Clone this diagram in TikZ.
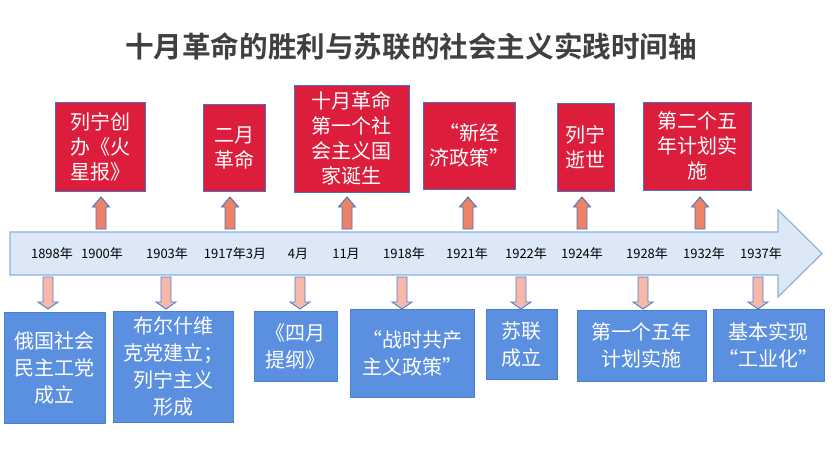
\documentclass[tikz,border=0pt]{standalone}
\usepackage{fontspec}
\setmainfont{Noto Sans CJK SC}
\newfontfamily\cjkb{Noto Sans CJK SC Bold}
\definecolor{redbox}{HTML}{DC1E3C}
\definecolor{bluebox}{HTML}{5B8FDF}
\definecolor{blueedge}{HTML}{4A7ED0}
\definecolor{redge}{HTML}{4472C4}
\definecolor{uparrfill}{HTML}{EE8266}
\definecolor{dnarrfill}{HTML}{F6B9A9}
\definecolor{axisfill}{HTML}{DDE8F7}
\definecolor{axisedge}{HTML}{8DB0E0}
\definecolor{titlecol}{HTML}{404040}
\tikzset{
  redbx/.style={draw=redge, line width=1pt, fill=redbox, text=white, inner sep=0pt, align=center, font=\fontsize{20}{25}\selectfont},
  bluebx/.style={draw=blueedge, line width=1pt, fill=bluebox, text=white, inner sep=0pt, align=center, font=\fontsize{20}{27}\selectfont},
  yearlbl/.style={inner sep=0pt, text=black, font=\fontsize{13}{15}\selectfont},
  uparr/.style={draw=redge, line width=0.9pt, fill=uparrfill, line join=miter},
  dnarr/.style={draw=blueedge, line width=0.9pt, fill=dnarrfill, line join=miter}
}
\newcommand{\UpArr}[1]{\draw[uparr] (#1-5,229) -- (#1-5,207) -- (#1-8.5,207) -- (#1,197) -- (#1+8.5,207) -- (#1+5,207) -- (#1+5,229) -- cycle;}
\newcommand{\DnArr}[1]{\draw[dnarr] (#1-5,277) -- (#1-5,302) -- (#1-10,302) -- (#1,309) -- (#1+10,302) -- (#1+5,302) -- (#1+5,277) -- cycle;}
\begin{document}
\begin{tikzpicture}[x=1pt,y=-1pt]
\useasboundingbox (0,0) rectangle (836,461);
\fill[white] (0,0) rectangle (836,461);
% title
\node[inner sep=0pt, text=titlecol, font=\cjkb\fontsize{28.6}{31}\selectfont] (title) at (411,47) {十月革命的胜利与苏联的社会主义实践时间轴};
% axis
\draw[axisedge, line width=1.2pt, fill=axisfill, line join=miter] (10,232) -- (778,232) -- (778,210) -- (822,253.5) -- (778,297) -- (778,275) -- (10,275) -- cycle;
% years
\node[yearlbl] (y1898) at (52,254) {1898年};
\node[yearlbl] (y1900) at (102,254) {1900年};
\node[yearlbl] (y1903) at (167,254) {1903年};
\node[yearlbl] (y1917) at (235,254) {1917年3月};
\node[yearlbl] (y4) at (298,254) {4月};
\node[yearlbl] (y11) at (346,254) {11月};
\node[yearlbl] (y1918) at (404,254) {1918年};
\node[yearlbl] (y1921) at (467,254) {1921年};
\node[yearlbl] (y1922) at (526,254) {1922年};
\node[yearlbl] (y1924) at (582,254) {1924年};
\node[yearlbl] (y1928) at (647,254) {1928年};
\node[yearlbl] (y1932) at (704,254) {1932年};
\node[yearlbl] (y1937) at (761,254) {1937年};
% up arrows
\UpArr{101}
\UpArr{230}
\UpArr{347}
\UpArr{468}
\UpArr{582}
\UpArr{700}
% down arrows
\DnArr{48}
\DnArr{166}
\DnArr{300}
\DnArr{402}
\DnArr{521}
\DnArr{643}
\DnArr{758}
% red boxes
\node[redbx, minimum width=90pt, minimum height=89pt] (r1) at (100.5,146.5) {列宁创\\办《火\\星报》};
\node[redbx, minimum width=62pt, minimum height=87pt] (r2) at (234,147.5) {二月\\革命};
\node[redbx, minimum width=115pt, minimum height=107pt] (r3) at (351.5,138.5) {十月革命\\第一个社\\会主义国\\家诞生};
\node[redbx, minimum width=92pt, minimum height=87pt] (r4) at (469,145.5) {“新经\\济政策”};
\node[redbx, minimum width=57pt, minimum height=88pt] (r5) at (585.5,147) {列宁\\逝世};
\node[redbx, minimum width=108pt, minimum height=88pt] (r6) at (697,146) {第二个五\\年计划实\\施};
% blue boxes
\node[bluebx, minimum width=101pt, minimum height=111pt] (b1) at (54.5,367.5) {俄国社会\\民主工党\\成立};
\node[bluebx, minimum width=120pt, minimum height=111pt] (b2) at (173,366.5) {布尔什维\\克党建立；\\列宁主义\\形成};
\node[bluebx, minimum width=83pt, minimum height=70pt] (b3) at (295.5,346) {《四月\\提纲》};
\node[bluebx, minimum width=124pt, minimum height=88pt] (b4) at (412,353) {“战时共产\\主义政策”};
\node[bluebx, minimum width=71pt, minimum height=70pt] (b5) at (521.5,344) {苏联\\成立};
\node[bluebx, minimum width=129pt, minimum height=71pt] (b6) at (641.5,345.5) {第一个五年\\计划实施};
\node[bluebx, minimum width=111pt, minimum height=72pt] (b7) at (768.5,345) {基本实现\\“工业化”};
\end{tikzpicture}
\end{document}
